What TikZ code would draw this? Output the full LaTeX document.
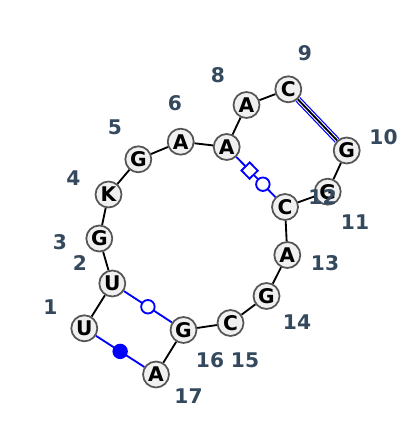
\documentclass[tikz,border=0pt]{standalone}
\usepackage{fontspec}
\setmainfont{DejaVu Sans}
\definecolor{numcol}{HTML}{34495E}
\definecolor{basefill}{HTML}{F0F0F0}
\definecolor{baseline}{HTML}{555555}
\tikzset{
  base/.style={circle, draw=baseline, fill=basefill, line width=1pt, minimum size=0.52cm, inner sep=0pt, font=\fontsize{11.5}{13}\selectfont\bfseries},
  numlabel/.style={text=numcol, font=\fontsize{11.5}{13}\selectfont\bfseries},
  backbone/.style={line width=1.05pt},
  pairline/.style={draw=blue, line width=1.05pt},
  wcmark/.style={circle, draw=blue, fill=white, line width=1.05pt, minimum size=0.27cm, inner sep=0pt},
  wcfilled/.style={wcmark, fill=blue},
  hoogmark/.style={rectangle, draw=blue, fill=white, line width=1.05pt, minimum size=0.23cm, inner sep=0pt, sloped},
}
\begin{document}
\begin{tikzpicture}[x=0.02cm, y=-0.02cm]
\useasboundingbox (0,0) rectangle (400,431);

% Bases
\node[base] (n1) at (84.3, 328.3) {U};
\node[base] (n2) at (112.3, 283.5) {U};
\node[base] (n3) at (99.3, 238.5) {G};
\node[base] (n4) at (108.5, 194.5) {K};
\node[base] (n5) at (138.3, 159.3) {G};
\node[base] (n6) at (180.7, 141.7) {A};
\node[base] (n7) at (226.7, 147) {A};
\node[base] (n8) at (246.5, 105) {A};
\node[base] (n9) at (288.3, 89.3) {C};
\node[base] (n10) at (346.7, 150.5) {G};
\node[base] (n11) at (327.7, 191.7) {G};
\node[base] (n12) at (285, 207) {C};
\node[base] (n13) at (287.3, 255) {A};
\node[base] (n14) at (266.5, 296) {G};
\node[base] (n15) at (230.5, 323) {C};
\node[base] (n16) at (183.5, 330) {G};
\node[base] (n17) at (156, 374.5) {A};

% Base pairs
\draw[blue, line width=3.6pt] (n9) -- (n10);
\draw[white, line width=2.2pt] (n9) -- (n10);
\draw[pairline] (n7) -- (n12) node[hoogmark, pos=0.34] {} node[wcmark, pos=0.68] {};
\draw[pairline] (n2) -- (n16) node[wcmark, pos=0.5] {};
\draw[pairline] (n1) -- (n17) node[wcfilled, pos=0.5] {};

% Backbone
\draw[backbone] (n1) -- (n2) -- (n3) -- (n4) -- (n5) -- (n6) -- (n7) -- (n8) -- (n9) -- (n10) -- (n11) -- (n12) -- (n13) -- (n14) -- (n15) -- (n16) -- (n17);

% Numbering
\node[numlabel] (l1) at (50.5, 307) {1};
\node[numlabel] (l2) at (80, 263) {2};
\node[numlabel] (l3) at (60, 242) {3};
\node[numlabel] (l4) at (73.3, 178) {4};
\node[numlabel] (l5) at (115, 127.5) {5};
\node[numlabel] (l6) at (175, 103) {6};
\node[numlabel] (l8) at (218, 75.5) {8};
\node[numlabel] (l9) at (305, 53) {9};
\node[numlabel] (l10) at (383.5, 137) {10};
\node[numlabel] (l11) at (355, 222) {11};
\node[numlabel] (l12) at (322.5, 197.5) {12};
\node[numlabel] (l13) at (325, 263) {13};
\node[numlabel] (l14) at (297, 322) {14};
\node[numlabel] (l15) at (245, 360.5) {15};
\node[numlabel] (l16) at (210, 360.5) {16};
\node[numlabel] (l17) at (188.5, 396) {17};
\end{tikzpicture}
\end{document}
